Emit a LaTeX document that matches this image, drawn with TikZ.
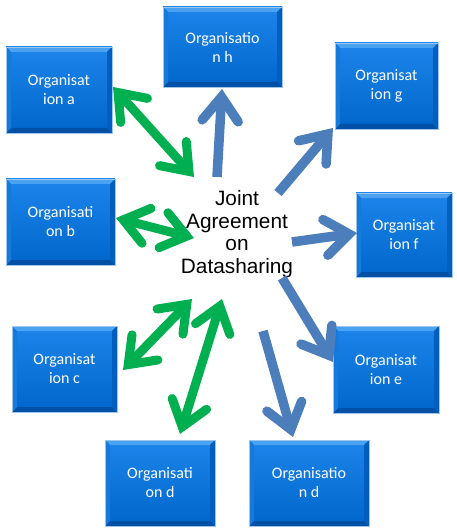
\documentclass[tikz,border=0pt]{standalone}
\usepackage{fontspec}
\setmainfont{Liberation Sans}
\newfontfamily\boxfont{Carlito}
\usetikzlibrary{arrows.meta}
\definecolor{faceTop}{HTML}{1C84EA}
\definecolor{faceBot}{HTML}{0066CC}
\definecolor{bevTop}{HTML}{4AA2F0}
\definecolor{bevBot}{HTML}{0050A6}
\definecolor{bevLeft}{HTML}{167ADC}
\definecolor{bevRight}{HTML}{005EBE}
\definecolor{boxLine}{HTML}{9CC6EE}
\definecolor{arrBlue}{HTML}{4D7EBC}
\definecolor{arrGreen}{HTML}{00B050}
\tikzset{
  orgbox/.style={rectangle, inner sep=0pt, outer sep=0pt, draw=boxLine, line width=0.6pt,
    top color=faceTop, bottom color=faceBot, text=white, align=center,
    font=\boxfont\fontsize{16}{19}\selectfont,
    path picture={
      \fill[bevTop] (path picture bounding box.north west) -- (path picture bounding box.north east)
        -- ([shift={(-5pt,-5pt)}]path picture bounding box.north east) -- ([shift={(5pt,-5pt)}]path picture bounding box.north west) -- cycle;
      \fill[bevBot] (path picture bounding box.south west) -- (path picture bounding box.south east)
        -- ([shift={(-5pt,5pt)}]path picture bounding box.south east) -- ([shift={(5pt,5pt)}]path picture bounding box.south west) -- cycle;
      \fill[bevLeft] (path picture bounding box.north west) -- ([shift={(5pt,-5pt)}]path picture bounding box.north west)
        -- ([shift={(5pt,5pt)}]path picture bounding box.south west) -- (path picture bounding box.south west) -- cycle;
      \fill[bevRight] (path picture bounding box.north east) -- ([shift={(-5pt,-5pt)}]path picture bounding box.north east)
        -- ([shift={(-5pt,5pt)}]path picture bounding box.south east) -- (path picture bounding box.south east) -- cycle;
    }},
  barb/.tip={Straight Barb[length=24pt, width=36pt, line cap=round, line join=miter]},
  bluearrow/.style={draw=arrBlue, line width=9.5pt, -barb},
  greenarrow/.style={draw=arrGreen, line width=9pt, barb-barb},
  center/.style={align=center, font=\fontsize{20.8}{22.5}\selectfont, inner sep=0pt}
}
\begin{document}
\begin{tikzpicture}[x=1pt,y=-1pt]
\useasboundingbox[fill=white] (0,0) rectangle (456,529);
% boxes
\node[orgbox, minimum width=106pt, minimum height=86pt] (a) at (59,90) {Organisat\\ion a};
\node[orgbox, minimum width=109pt, minimum height=86pt] (b) at (60.5,222) {Organisati\\on b};
\node[orgbox, minimum width=119pt, minimum height=80pt] (h) at (222.5,47) {Organisatio\\n h};
\node[orgbox, minimum width=103pt, minimum height=86pt] (g) at (386.5,86) {Organisat\\ion g};
\node[orgbox, minimum width=96pt, minimum height=84pt] (f) at (404,235) {Organisat\\ion f};
\node[orgbox, minimum width=105pt, minimum height=86pt] (c) at (64.5,369) {Organisat\\ion c};
\node[orgbox, minimum width=106pt, minimum height=87pt] (e) at (386,369.5) {Organisat\\ion e};
\node[orgbox, minimum width=110pt, minimum height=86pt] (d1) at (160,483) {Organisati\\on d};
\node[orgbox, minimum width=120pt, minimum height=86pt] (d2) at (309,483) {Organisatio\\n d};
% centre
\node[center] (J) at (237,234) {Joint\\Agreement\\on\\Datasharing};
% arrow end points
\coordinate (ga1) at (113,87);  \coordinate (ga2) at (194,177);
\coordinate (gb1) at (116,218); \coordinate (gb2) at (194,238);
\coordinate (gc1) at (123,370); \coordinate (gc2) at (192,299);
\coordinate (gd1) at (180,434); \coordinate (gd2) at (222,299);
\coordinate (bh1) at (217,177); \coordinate (bh2) at (222,89);
\coordinate (bg1) at (278,193); \coordinate (bg2) at (333,128);
\coordinate (bf1) at (292,242); \coordinate (bf2) at (357,233);
\coordinate (be1) at (282,278); \coordinate (be2) at (333,362);
\coordinate (bd1) at (263,331); \coordinate (bd2) at (293,437);
% arrows
\draw[greenarrow] (ga1) -- (ga2);
\draw[greenarrow] (gb1) -- (gb2);
\draw[greenarrow] (gc1) -- (gc2);
\draw[greenarrow] (gd1) -- (gd2);
\draw[bluearrow] (bh1) -- (bh2);
\draw[bluearrow] (bg1) -- (bg2);
\draw[bluearrow] (bf1) -- (bf2);
\draw[bluearrow] (be1) -- (be2);
\draw[bluearrow] (bd1) -- (bd2);
\end{tikzpicture}
\end{document}
